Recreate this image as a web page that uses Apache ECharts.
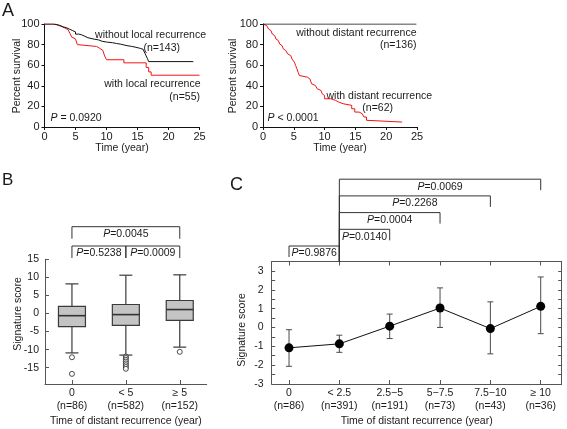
<!DOCTYPE html>
<html><head><meta charset="utf-8">
<script src="https://cdn.jsdelivr.net/npm/echarts@6/dist/echarts.min.js"></script>
<style>html,body{margin:0;padding:0;background:#fff}#c{width:567px;height:429px}</style>
</head><body><div id="c"></div>
<script>
const FONT = '"Liberation Sans", Arial, sans-serif';
const TXT = '#1a1a1a';
const RED = '#f01414';

// ---------- Panel A: Kaplan-Meier curves (time in years, percent survival) ----------
const kmLocalWithout = [[0,100],[1.4,99.3],[2.0,98.6],[2.5,97.2],[3.0,96.5],[3.5,95.1],[4.0,93.7],[4.5,92.3],[5.0,90.2],[5.5,89.5],[6.0,88.1],[6.5,86.7],[7.0,86.0],[7.5,85.3],[8.0,84.6],[8.7,83.2],[9.3,82.5],[10.0,81.8],[11.0,81.1],[11.6,80.4],[12.3,79.7],[12.8,79.0],[13.3,78.3],[14.0,77.6],[14.6,76.9],[15.1,76.2],[15.5,75.5],[15.9,73.8],[16.2,71.5],[16.4,69.0],[16.6,66.5],[16.8,63.5],[24.0,63.5]];
const kmLocalWith = [[0,100],[1.7,98.2],[2.5,96.4],[3.2,94.5],[3.8,92.7],[4.1,90.9],[4.4,87.3],[4.7,85.5],[5.0,83.6],[5.3,80.0],[5.6,78.2],[8.4,76.4],[8.9,74.5],[9.4,72.7],[9.7,69.0],[10.0,65.3],[12.8,62.3],[16.4,57.8],[16.8,53.5],[17.2,50.3],[25.0,50.3]];
const kmDistantWithout = [[0,100],[24.9,100]];
const kmDistantWith = [[0,100],[0.3,98.4],[0.6,96.8],[0.9,95.2],[1.1,93.5],[1.3,91.9],[1.5,90.3],[1.7,88.7],[1.9,87.1],[2.1,85.5],[2.3,83.9],[2.5,82.3],[2.7,80.6],[2.9,79.0],[3.1,77.4],[3.3,75.8],[3.5,74.2],[3.7,72.6],[4.0,71.0],[4.2,69.4],[4.5,67.7],[4.7,66.1],[5.0,64.5],[5.1,62.9],[5.3,59.7],[5.5,56.5],[5.7,53.2],[5.9,50.0],[6.1,48.4],[7.2,46.8],[7.6,45.2],[7.9,41.9],[8.2,40.3],[8.5,38.7],[8.8,37.1],[9.1,35.5],[9.4,33.9],[9.6,32.3],[9.8,30.6],[10.0,27.4],[11.0,25.8],[11.8,24.2],[12.3,22.6],[13.0,21.0],[14.4,17.7],[14.9,14.5],[15.6,12.9],[16.1,11.3],[16.4,9.7],[16.8,6.5],[17.1,4.8],[22.6,4.8]];
const censorLocalWithout = [2.6,3.5,4.8,5.6,6.2,6.8,7.4,8.0,8.5,9.1,9.6,10.3,10.8,11.3,11.8,12.2,12.6,13.0,13.5,13.9,14.2,14.5,14.8,15.2,15.5,16.9,17.2,17.6,18.3,19.5,20.8,24.0];
const censorLocalWith = [10.5,11.0,11.5,12.0,13.2,13.8,14.6,15.3,17.8,18.5,19.3,20.0,21.0,22.3,23.5,25.0];
const censorDistantWithout = [2.5,2.8,3.2,3.8,4.5,5.0,5.8,6.4,7.2,7.6,8.3,8.8,9.4,10.2,10.5,10.8,11.0,11.3,11.6,11.8,12.1,12.4,12.6,12.9,13.2,13.4,13.7,14.0,14.3,14.5,14.8,15.1,15.4,15.6,15.9,16.2,16.5,17.2,17.7,19.1,23.9,24.9];
const censorDistantWith = [12.1,19.5,22.6];

// ---------- Panel B: box plots ----------
const bCategories = ['0\n(n=86)', '< 5\n(n=582)', '≥ 5\n(n=152)'];
const bBoxStats = [ // [lower whisker, Q1, median, Q3, upper whisker]
  [-10.9, -3.6, -0.6, 2.0, 8.2],
  [-11.5, -3.3, -0.3, 2.5, 10.6],
  [-9.3, -1.9, 1.1, 3.6, 10.7]
];
const bOutliers = [
  [-12.1, -16.7],
  [-11.9, -12.3, -12.8, -13.3, -13.8, -14.3, -14.8, -15.3],
  [-10.6]
];
const bYTicks = [-15,-10,-5,0,5,10,15];
const bBrackets = [[0,1,1],[1,2,1],[0,2,2]]; // [from, to, level]
const bBracketP = ['0.5238','0.0009','0.0045'];

// ---------- Panel C: mean with error bars ----------
const cCategories = ['0\n(n=86)', '< 2.5\n(n=391)', '2.5−5\n(n=191)', '5−7.5\n(n=73)', '7.5−10\n(n=43)', '≥ 10\n(n=36)'];
const cMean = [-1.08, -0.87, 0.07, 1.03, -0.06, 1.12];
const cUpper = [-0.12, -0.41, 0.71, 2.10, 1.36, 2.68];
const cLower = [-2.06, -1.32, -0.59, 0.00, -1.40, -0.33];
const cYTicks = [-3,-2,-1,0,1,2,3];
const cBrackets = [[0,1,1],[1,2,2],[1,3,3],[1,4,4],[1,5,5]];
const cBracketP = ['0.9876','0.0140','0.0004','0.2268','0.0069'];

// ---------- helpers ----------
function kmAt(curve, t) {
  let s = curve[0][1];
  for (const p of curve) { if (p[0] <= t) s = p[1]; }
  return s;
}
const font = (s) => s + 'px ' + FONT;
function txt(x, y, text, align, size, extra) {
  return Object.assign({ type: 'text', x: x, y: y, style: {
    text: text, fill: TXT, font: font(size), align: align, textAlign: align,
    verticalAlign: 'middle', textVerticalAlign: 'middle',
    rich: { i: { fontStyle: 'italic', fontSize: size, fontFamily: FONT, fill: TXT } }
  } }, extra || {});
}

function bracketRender(pTexts, topVal, base, step, drop, hub, fs) {
  return function (params, api) {
    const a = api.value(0), b = api.value(1), lvl = api.value(2);
    const pa = api.coord([a, topVal]), pb = api.coord([b, topVal]);
    const top = pa[1];
    const ly = top - base - (lvl - 1) * step;
    const ya = (hub === a) ? top : ly + drop;
    const yb = (hub === b) ? top : ly + drop;
    return { type: 'group', children: [
      { type: 'polyline', shape: { points: [[pa[0], ya], [pa[0], ly], [pb[0], ly], [pb[0], yb]] },
        style: { stroke: '#333', lineWidth: 1, fill: null } },
      { type: 'text', style: { text: '{i|P}=' + pTexts[params.dataIndex], x: (pa[0] + pb[0]) / 2, y: ly + 7.5,
        align: 'center', verticalAlign: 'middle', fill: TXT, font: font(fs),
        rich: { i: { fontStyle: 'italic', fontSize: fs, fontFamily: FONT, fill: TXT } } } }
    ] };
  };
}

function boxRender(params, api) {
  const i = api.value(0);
  const ys = [1, 2, 3, 4, 5].map(k => api.coord([i, api.value(k)])[1]);
  const x = api.coord([i, 0])[0];
  const half = 13.5, cap = 6.5;
  const [low, q1, med, q3, high] = ys;
  const ls = { stroke: '#3a3a3a', lineWidth: 1.2 };
  return { type: 'group', children: [
    { type: 'line', shape: { x1: x, y1: high, x2: x, y2: q3 }, style: ls },
    { type: 'line', shape: { x1: x, y1: q1, x2: x, y2: low }, style: ls },
    { type: 'line', shape: { x1: x - cap, y1: high, x2: x + cap, y2: high }, style: ls },
    { type: 'line', shape: { x1: x - cap, y1: low, x2: x + cap, y2: low }, style: ls },
    { type: 'rect', shape: { x: x - half, y: q3, width: 2 * half, height: q1 - q3 }, style: { fill: '#c4c4c4', stroke: '#3a3a3a', lineWidth: 1.2 } },
    { type: 'line', shape: { x1: x - half, y1: med, x2: x + half, y2: med }, style: { stroke: '#333', lineWidth: 1.6 } }
  ] };
}

function errRender(params, api) {
  const x = api.coord([api.value(0), 0])[0];
  const lo = api.coord([api.value(0), api.value(1)])[1];
  const hi = api.coord([api.value(0), api.value(2)])[1];
  const s = { stroke: '#4a4a4a', lineWidth: 1 };
  return { type: 'group', children: [
    { type: 'line', shape: { x1: x, y1: lo, x2: x, y2: hi }, style: s },
    { type: 'line', shape: { x1: x - 3, y1: lo, x2: x + 3, y2: lo }, style: s },
    { type: 'line', shape: { x1: x - 3, y1: hi, x2: x + 3, y2: hi }, style: s }
  ] };
}

const axBlack = { onZero: false, lineStyle: { color: '#111', width: 1 } };
const axGray = { onZero: false, lineStyle: { color: '#555', width: 1 } };
function kmX(grid) {
  return { gridIndex: grid, type: 'value', min: 0, max: 25, interval: 5,
    axisLine: axBlack, axisTick: { show: true, length: 3, lineStyle: { color: '#111' } },
    axisLabel: { fontSize: 11, color: TXT, fontFamily: FONT, margin: 4 }, splitLine: { show: false },
    name: 'Time (year)', nameLocation: 'middle', nameGap: 15,
    nameTextStyle: { fontSize: 10.5, color: TXT, fontFamily: FONT } };
}
function kmY(grid) {
  return { gridIndex: grid, type: 'value', min: 0, max: 100, interval: 20,
    axisLine: { show: true, onZero: false, lineStyle: { color: '#111', width: 1 } },
    axisTick: { show: true, length: 3, lineStyle: { color: '#111' } },
    axisLabel: { fontSize: 11, color: TXT, fontFamily: FONT, margin: 5 }, splitLine: { show: false } };
}
const censorSym = 'path://M0,0 L0,10';
const halfTicks = [-2.5,-2,-1.5,-1,-0.5,0,0.5,1,1.5,2,2.5,3];

const option = {
  animation: false,
  backgroundColor: '#fff',
  grid: [
    { left: 44.5, top: 24, width: 155, height: 103 },
    { left: 263, top: 24, width: 154, height: 103 },
    { left: 45, top: 259.3, width: 161.7, height: 124.7 },
    { left: 271.7, top: 261.5, width: 290, height: 122.5 }
  ],
  xAxis: [
    kmX(0), kmX(1),
    { gridIndex: 2, type: 'category', data: bCategories, boundaryGap: true,
      axisLine: axGray, axisTick: { show: true, inside: true, alignWithLabel: true, length: 4, lineStyle: { color: '#555' } },
      axisLabel: { fontSize: 10.5, color: TXT, fontFamily: FONT, margin: 3, lineHeight: 12.5 },
      name: 'Time of distant recurrence (year)', nameLocation: 'middle', nameGap: 32,
      nameTextStyle: { fontSize: 10.5, color: TXT, fontFamily: FONT } },
    { gridIndex: 3, type: 'value', min: -0.344, max: 5.417,
      axisLine: axGray,
      axisTick: { show: true, inside: true, length: 4, customValues: [0,1,2,3,4,5], lineStyle: { color: '#555' } },
      axisLabel: { fontSize: 10.5, color: TXT, fontFamily: FONT, margin: 3, lineHeight: 12.5,
        customValues: [0,1,2,3,4,5], formatter: v => cCategories[Math.round(v)] },
      splitLine: { show: false },
      name: 'Time of distant recurrence (year)', nameLocation: 'middle', nameGap: 32,
      nameTextStyle: { fontSize: 10.5, color: TXT, fontFamily: FONT } },
    { gridIndex: 3, type: 'value', position: 'top', min: -0.344, max: 5.417,
      axisLine: axGray,
      axisTick: { show: true, inside: true, length: 4, customValues: [0,1,2,3,4,5], lineStyle: { color: '#555' } },
      axisLabel: { show: false }, splitLine: { show: false } }
  ],
  yAxis: [
    kmY(0), kmY(1),
    { gridIndex: 2, type: 'value', min: -19.5, max: 15,
      axisLine: { show: true, onZero: false, lineStyle: { color: '#555', width: 1 } },
      axisTick: { show: true, inside: true, length: 4, customValues: bYTicks, lineStyle: { color: '#555' } },
      axisLabel: { fontSize: 10.5, color: TXT, fontFamily: FONT, margin: 6, customValues: bYTicks },
      splitLine: { show: false } },
    { gridIndex: 3, type: 'value', min: -3, max: 3.5,
      axisLine: { show: true, onZero: false, lineStyle: { color: '#555', width: 1 } },
      axisTick: { show: true, inside: true, length: 3.5, customValues: halfTicks, lineStyle: { color: '#555' } },
      axisLabel: { fontSize: 10.5, color: TXT, fontFamily: FONT, margin: 8, customValues: cYTicks },
      splitLine: { show: false } },
    { gridIndex: 3, type: 'value', position: 'right', min: -3, max: 3.5,
      axisLine: { show: true, onZero: false, lineStyle: { color: '#555', width: 1 } },
      axisTick: { show: true, inside: true, length: 3.5, customValues: halfTicks, lineStyle: { color: '#555' } },
      axisLabel: { show: false }, splitLine: { show: false } }
  ],
  series: [
    // Panel A left
    { type: 'line', xAxisIndex: 0, yAxisIndex: 0, data: kmLocalWithout, step: 'end', showSymbol: false, symbol: 'none',
      lineStyle: { color: '#111', width: 1 }, z: 3 },
    { type: 'line', xAxisIndex: 0, yAxisIndex: 0, data: kmLocalWith, step: 'end', showSymbol: false, symbol: 'none',
      lineStyle: { color: RED, width: 1 }, z: 2 },
    { type: 'scatter', xAxisIndex: 0, yAxisIndex: 0, data: censorLocalWithout.map(t => [t, kmAt(kmLocalWithout, t)]),
      symbol: censorSym, symbolSize: [1, 4], itemStyle: { color: '#111', borderColor: '#111', borderWidth: 1 }, z: 4 },
    { type: 'scatter', xAxisIndex: 0, yAxisIndex: 0, data: censorLocalWith.map(t => [t, kmAt(kmLocalWith, t)]),
      symbol: censorSym, symbolSize: [1, 4], itemStyle: { color: RED, borderColor: RED, borderWidth: 1 }, z: 4 },
    // Panel A right
    { type: 'line', xAxisIndex: 1, yAxisIndex: 1, data: kmDistantWithout, step: 'end', showSymbol: false, symbol: 'none',
      lineStyle: { color: '#111', width: 1 }, z: 3 },
    { type: 'line', xAxisIndex: 1, yAxisIndex: 1, data: kmDistantWith, step: 'end', showSymbol: false, symbol: 'none',
      lineStyle: { color: RED, width: 1 }, z: 2 },
    { type: 'scatter', xAxisIndex: 1, yAxisIndex: 1, data: censorDistantWithout.map(t => [t, kmAt(kmDistantWithout, t)]),
      symbol: censorSym, symbolSize: [1, 4], itemStyle: { color: '#111', borderColor: '#111', borderWidth: 1 }, z: 4 },
    { type: 'scatter', xAxisIndex: 1, yAxisIndex: 1, data: censorDistantWith.map(t => [t, kmAt(kmDistantWith, t)]),
      symbol: censorSym, symbolSize: [1, 4], itemStyle: { color: RED, borderColor: RED, borderWidth: 1 }, z: 4 },
    // Panel B
    { type: 'custom', xAxisIndex: 2, yAxisIndex: 2, renderItem: boxRender,
      encode: { x: 0, y: [1, 2, 3, 4, 5] }, data: bBoxStats.map((s, i) => [i].concat(s)), z: 2 },
    { type: 'scatter', xAxisIndex: 2, yAxisIndex: 2, symbol: 'circle', symbolSize: 5,
      itemStyle: { color: '#fff', borderColor: '#222', borderWidth: 1 },
      data: bOutliers.flatMap((arr, i) => arr.map(v => [i, v])), z: 3 },
    { type: 'custom', xAxisIndex: 2, yAxisIndex: 2, clip: false, encode: { x: 0, y: 2 },
      renderItem: bracketRender(bBracketP, 15, 13.3, 19.3, 12, -1, 10.5), data: bBrackets, z: 5 },
    // Panel C
    { type: 'custom', xAxisIndex: 3, yAxisIndex: 3, renderItem: errRender, encode: { x: 0, y: [1, 2] },
      data: cMean.map((m, i) => [i, cLower[i], cUpper[i]]), z: 2 },
    { type: 'line', xAxisIndex: 3, yAxisIndex: 3, data: cMean.map((m, i) => [i, m]),
      symbol: 'circle', symbolSize: 9, showSymbol: true, itemStyle: { color: '#000' },
      lineStyle: { color: '#111', width: 1 }, z: 3 },
    { type: 'custom', xAxisIndex: 3, yAxisIndex: 3, clip: false, encode: { x: 0, y: 2 },
      renderItem: bracketRender(cBracketP, 3.5, 15.5, 16.7, 11, 1, 10.5), data: cBrackets, z: 5 }
  ],
  graphic: [
    txt(2, 11, 'A', 'left', 18),
    txt(2, 180, 'B', 'left', 17),
    txt(230, 185, 'C', 'left', 18),
    txt(206, 35, 'without local recurrence', 'right', 10.5),
    txt(180, 48, '(n=143)', 'right', 10.5),
    txt(200.5, 84, 'with local recurrence', 'right', 10.5),
    txt(200, 97, '(n=55)', 'right', 10.5),
    txt(50.5, 118, '{i|P} = 0.0920', 'left', 10.5),
    txt(416.5, 33, 'without distant recurrence', 'right', 10.5),
    txt(416.5, 45, '(n=136)', 'right', 10.5),
    txt(326.5, 96, 'with distant recurrence', 'left', 10.5),
    txt(393, 108, '(n=62)', 'right', 10.5),
    txt(267.5, 118, '{i|P} < 0.0001', 'left', 10.5),
    txt(17, 76, 'Percent survival', 'center', 10.5, { rotation: Math.PI / 2 }),
    txt(233.5, 76, 'Percent survival', 'center', 10.5, { rotation: Math.PI / 2 }),
    txt(18, 314, 'Signature score', 'center', 10.5, { rotation: Math.PI / 2 }),
    txt(241.7, 330, 'Signature score', 'center', 10.5, { rotation: Math.PI / 2 })
  ]
};
const chart = echarts.init(document.getElementById('c'), null, { renderer: 'canvas' });
chart.setOption(option);
</script></body></html>
